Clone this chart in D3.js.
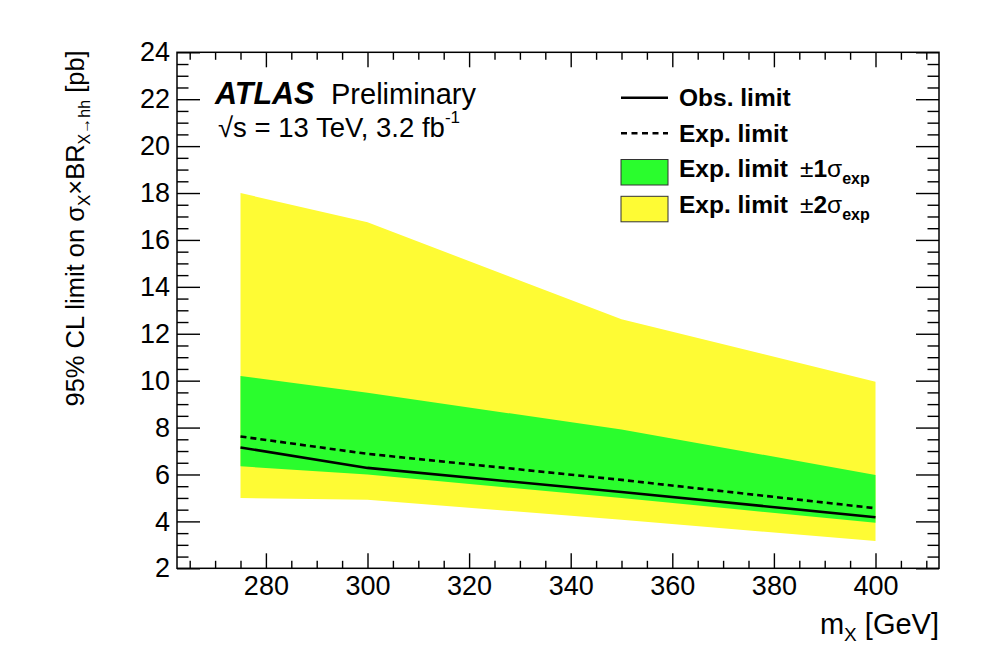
<!DOCTYPE html>
<html>
<head>
<meta charset="utf-8">
<script src="https://cdn.jsdelivr.net/npm/d3@7"></script>
<style>
  body { margin: 0; background: #fff; }
  text { font-family: "Liberation Sans", Arial, Helvetica, sans-serif; fill: #000; }
</style>
</head>
<body>
<svg id="chart" width="984" height="649"></svg>
<script>
// Resonance mass points (GeV) and 95% CL limits (pb)
const massPoints = [275, 300, 350, 400];
const obsLimit   = [7.15, 6.28, 5.25, 4.18];
const expLimit   = [7.62, 6.88, 5.77, 4.56];
const band1Lo    = [6.35, 6.00, 5.00, 3.94];
const band1Hi    = [10.2, 9.48, 7.92, 5.98];
const band2Lo    = [5.0, 4.92, 4.07, 3.16];
const band2Hi    = [18.0, 16.75, 12.62, 9.95];

const xMajorTicks = [280, 300, 320, 340, 360, 380, 400];
const yMajorTicks = [2, 4, 6, 8, 10, 12, 14, 16, 18, 20, 22, 24];

const xDomain = [262.5, 412.5];
const yDomain = [2, 24];

const frame = { left: 177, right: 939, top: 52.3, bottom: 568.3 };
const yellow = "#fefb34";
const green = "#2afd2d";

const svg = d3.select("#chart");

const x = d3.scaleLinear().domain(xDomain).range([frame.left, frame.right]);
const y = d3.scaleLinear().domain(yDomain).range([frame.bottom, frame.top]);

const pts = massPoints.map((m, i) => ({
  m, obs: obsLimit[i], exp: expLimit[i],
  lo1: band1Lo[i], hi1: band1Hi[i], lo2: band2Lo[i], hi2: band2Hi[i]
}));

// ±2σ and ±1σ bands
const area2 = d3.area().x(d => x(d.m)).y0(d => y(d.lo2)).y1(d => y(d.hi2));
const area1 = d3.area().x(d => x(d.m)).y0(d => y(d.lo1)).y1(d => y(d.hi1));
svg.append("path").datum(pts).attr("d", area2).attr("fill", yellow);
svg.append("path").datum(pts).attr("d", area1).attr("fill", green);

// expected and observed limits
const lineExp = d3.line().x(d => x(d.m)).y(d => y(d.exp));
const lineObs = d3.line().x(d => x(d.m)).y(d => y(d.obs));
svg.append("path").datum(pts).attr("d", lineExp)
  .attr("fill", "none").attr("stroke", "#000").attr("stroke-width", 2.6)
  .attr("stroke-dasharray", "6,4");
svg.append("path").datum(pts).attr("d", lineObs)
  .attr("fill", "none").attr("stroke", "#000").attr("stroke-width", 2.6);

// minor tick positions
const xMinor = d3.range(265, 412.5, 5).filter(v => v % 20 !== 0);
const yMinor = d3.range(2, 24.01, 0.5).filter(v => Math.abs(v % 2) > 1e-6);

function styleAxis(g) {
  g.select(".domain").remove();
  g.selectAll(".tick line").attr("stroke", "#000").attr("stroke-width", 1.4);
  g.selectAll(".tick text").style("font-size", "27px").attr("fill", "#000");
}

// bottom axis
svg.append("g").attr("transform", `translate(0,${frame.bottom})`)
  .call(d3.axisBottom(x).tickValues(xMinor).tickSize(-7.5).tickFormat(""))
  .call(styleAxis);
svg.append("g").attr("transform", `translate(0,${frame.bottom})`)
  .call(d3.axisBottom(x).tickValues(xMajorTicks).tickSize(-15).tickPadding(8).tickFormat(d3.format("d")))
  .call(styleAxis);
// top axis (ticks only)
svg.append("g").attr("transform", `translate(0,${frame.top})`)
  .call(d3.axisTop(x).tickValues(xMinor).tickSize(-7.5).tickFormat(""))
  .call(styleAxis);
svg.append("g").attr("transform", `translate(0,${frame.top})`)
  .call(d3.axisTop(x).tickValues(xMajorTicks).tickSize(-15).tickFormat(""))
  .call(styleAxis);
// left axis
svg.append("g").attr("transform", `translate(${frame.left},0)`)
  .call(d3.axisLeft(y).tickValues(yMinor).tickSize(-11.5).tickFormat(""))
  .call(styleAxis);
svg.append("g").attr("transform", `translate(${frame.left},0)`)
  .call(d3.axisLeft(y).tickValues(yMajorTicks).tickSize(-23).tickPadding(7).tickFormat(d3.format("d")))
  .call(styleAxis);
// right axis (ticks only)
svg.append("g").attr("transform", `translate(${frame.right},0)`)
  .call(d3.axisRight(y).tickValues(yMinor).tickSize(-11.5).tickFormat(""))
  .call(styleAxis);
svg.append("g").attr("transform", `translate(${frame.right},0)`)
  .call(d3.axisRight(y).tickValues(yMajorTicks).tickSize(-23).tickFormat(""))
  .call(styleAxis);

// frame
svg.append("rect")
  .attr("x", frame.left).attr("y", frame.top)
  .attr("width", frame.right - frame.left).attr("height", frame.bottom - frame.top)
  .attr("fill", "none").attr("stroke", "#000").attr("stroke-width", 1.5);

// axis titles
const xt = svg.append("text").attr("x", frame.right).attr("y", 634)
  .attr("text-anchor", "end").style("font-size", "29px");
xt.append("tspan").text("m");
xt.append("tspan").attr("dy", 7).style("font-size", "19px").text("X");
xt.append("tspan").attr("dy", -7).text(" [GeV]");

const yt = svg.append("text")
  .attr("transform", `translate(84,${frame.top - 2}) rotate(-90)`)
  .attr("text-anchor", "end").style("font-size", "25.5px");
yt.append("tspan").text("95% CL limit on σ");
yt.append("tspan").attr("dy", 6).style("font-size", "17px").text("X");
yt.append("tspan").attr("dy", -6).text("×BR");
yt.append("tspan").attr("dy", 6).style("font-size", "16px").text("X→hh");
yt.append("tspan").attr("dy", -6).text(" [pb]");

// experiment label
svg.append("text").attr("x", 215).attr("y", 103.5)
  .style("font-size", "30.5px").style("font-weight", "bold").style("font-style", "italic")
  .text("ATLAS");
svg.append("text").attr("x", 331).attr("y", 103.5)
  .style("font-size", "29px").text("Preliminary");
const en = svg.append("text").attr("x", 218).attr("y", 137).style("font-size", "27.5px");
en.append("tspan").text("√s = 13 TeV, 3.2 fb");
en.append("tspan").attr("dy", -14).style("font-size", "17px").text("-1");

// legend
const lg = svg.append("g");
const lx0 = 621, lx1 = 668, tx = 679;
lg.append("line").attr("x1", lx0).attr("x2", lx1).attr("y1", 97.7).attr("y2", 97.7)
  .attr("stroke", "#000").attr("stroke-width", 2.4);
lg.append("line").attr("x1", lx0).attr("x2", lx1).attr("y1", 133.3).attr("y2", 133.3)
  .attr("stroke", "#000").attr("stroke-width", 2.4).attr("stroke-dasharray", "6,4.5");
lg.append("rect").attr("x", lx0).attr("y", 159.5).attr("width", lx1 - lx0).attr("height", 25.5)
  .attr("fill", green).attr("stroke", "#333").attr("stroke-width", 1);
lg.append("rect").attr("x", lx0).attr("y", 196.3).attr("width", lx1 - lx0).attr("height", 25.5)
  .attr("fill", yellow).attr("stroke", "#333").attr("stroke-width", 1);

const legText = [
  { y: 106, label: "Obs. limit", sig: null },
  { y: 141.7, label: "Exp. limit", sig: null },
  { y: 177, label: "Exp. limit", sig: "1" },
  { y: 213, label: "Exp. limit", sig: "2" }
];
legText.forEach(e => {
  const t = lg.append("text").attr("x", tx).attr("y", e.y)
    .style("font-size", "24.5px").style("font-weight", "bold");
  t.append("tspan").text(e.label);
  if (e.sig) {
    t.append("tspan").attr("x", 800).style("font-weight", "normal").text("±");
    t.append("tspan").text(e.sig);
    t.append("tspan").style("font-weight", "normal").text("σ");
    t.append("tspan").attr("dy", 7).style("font-size", "16px").text("exp");
  }
});
</script>
</body>
</html>
